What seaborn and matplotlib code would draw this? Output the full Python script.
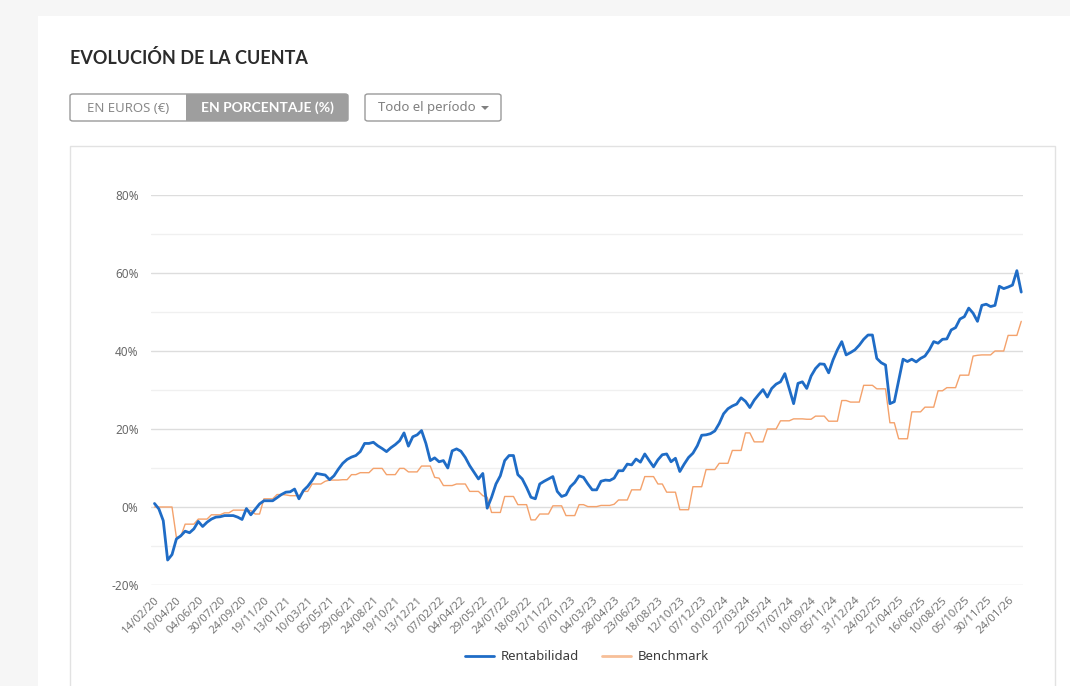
import matplotlib

matplotlib.use("Agg")
import matplotlib.pyplot as plt
import numpy as np
import pandas as pd
import seaborn as sns
from matplotlib.lines import Line2D
from matplotlib.patches import FancyBboxPatch, Polygon, Rectangle
from matplotlib.ticker import FuncFormatter, MultipleLocator


W, H = 1070, 686

# tick labels, one every 5 points
date_labels = [
    "14/02/20", "10/04/20", "04/06/20", "30/07/20", "24/09/20", "19/11/20",
    "13/01/21", "10/03/21", "05/05/21", "29/06/21", "24/08/21", "19/10/21",
    "13/12/21", "07/02/22", "04/04/22", "29/05/22", "24/07/22", "18/09/22",
    "12/11/22", "07/01/23", "04/03/23", "28/04/23", "23/06/23", "18/08/23",
    "12/10/23", "07/12/23", "01/02/24", "27/03/24", "22/05/24", "17/07/24",
    "10/09/24", "05/11/24", "31/12/24", "24/02/25", "21/04/25", "16/06/25",
    "10/08/25", "05/10/25", "30/11/25", "24/01/26",
]

rentabilidad = [
    0.9, -0.5, -3.5, -13.6, -12.2, -8.2, -7.4, -6.2, -6.6, -5.6,
    -3.7, -5.0, -3.9, -3.1, -2.6, -2.5, -2.2, -2.2, -2.2, -2.6,
    -3.2, -0.4, -2.0, -0.6, 0.8, 1.6, 1.6, 1.6, 2.4, 3.2,
    3.8, 3.9, 4.6, 2.1, 4.2, 5.3, 6.8, 8.6, 8.4, 8.2,
    7.0, 8.0, 9.7, 11.2, 12.2, 12.8, 13.2, 14.2, 16.3, 16.3,
    16.6, 15.7, 15.0, 14.2, 15.2, 16.0, 17.0, 19.0, 15.6, 18.0,
    18.5, 19.6, 16.3, 11.9, 12.6, 11.6, 11.9, 10.0, 14.4, 14.9,
    14.3, 12.7, 10.6, 8.9, 7.2, 8.6, -0.3, 2.5, 5.9, 8.0,
    11.9, 13.2, 13.2, 8.3, 7.2, 5.0, 2.5, 2.1, 5.9, 6.6,
    7.2, 7.8, 4.0, 2.7, 3.1, 5.2, 6.3, 8.0, 7.6, 5.9,
    4.4, 4.4, 6.6, 6.9, 6.8, 7.4, 9.3, 9.3, 11.0, 10.8,
    12.3, 11.5, 13.6, 11.9, 10.3, 12.1, 13.4, 13.6, 11.6, 12.5,
    9.1, 11.0, 12.7, 13.8, 15.7, 18.4, 18.5, 18.8, 19.5, 21.4,
    23.9, 25.2, 25.9, 26.4, 28.0, 27.1, 25.5, 27.4, 28.8, 30.1,
    28.2, 30.4, 31.5, 32.1, 34.2, 30.4, 26.5, 31.7, 32.1, 30.4,
    33.6, 35.5, 36.7, 36.6, 34.4, 37.7, 40.3, 42.4, 39.0, 39.6,
    40.3, 41.5, 43.0, 44.1, 44.1, 38.1, 37.0, 36.4, 26.5, 27.0,
    32.5, 37.9, 37.3, 37.9, 37.2, 38.1, 38.7, 40.3, 42.4, 42.0,
    43.0, 43.1, 45.4, 46.0, 48.2, 48.8, 51.0, 49.7, 47.6, 51.7,
    52.0, 51.4, 51.7, 56.6, 56.0, 56.4, 56.9, 60.6, 55.1,
]

benchmark = [
    0, 0, 0, 0, 0, -7.8, -7.6, -4.4, -4.4, -4.4,
    -3.1, -3.1, -3.1, -2.0, -2.0, -2.0, -1.5, -1.5, -0.8, -0.8,
    -0.8, -0.8, -0.9, -1.8, -1.8, 2.1, 2.1, 2.1, 3.2, 3.2,
    3.1, 2.9, 2.9, 2.9, 4.0, 4.0, 5.9, 5.9, 5.9, 6.6,
    6.9, 6.9, 6.9, 7.0, 7.0, 8.3, 8.3, 8.8, 8.8, 8.8,
    9.9, 9.9, 9.9, 8.3, 8.3, 8.3, 9.9, 9.9, 9.0, 9.0,
    9.0, 10.5, 10.5, 10.5, 7.6, 7.4, 5.5, 5.5, 5.5, 5.9,
    5.9, 5.9, 4.0, 4.0, 4.0, 2.9, 2.5, -1.4, -1.4, -1.4,
    2.7, 2.7, 2.7, 0.6, 0.6, 0.6, -3.3, -3.3, -1.8, -1.8,
    -1.8, 0.3, 0.3, 0.3, -2.2, -2.2, -2.2, 0.6, 0.6, 0.1,
    0.1, 0.1, 0.4, 0.4, 0.4, 0.7, 1.8, 1.8, 1.8, 4.4,
    4.4, 4.4, 7.8, 7.8, 7.8, 5.9, 5.9, 3.8, 3.8, 3.8,
    -0.7, -0.7, -0.7, 5.2, 5.2, 5.2, 9.6, 9.6, 9.6, 11.2,
    11.2, 11.2, 14.5, 14.5, 14.5, 19.0, 19.0, 16.7, 16.7, 16.7,
    20.0, 20.0, 20.0, 22.1, 22.1, 22.1, 22.6, 22.6, 22.6, 22.5,
    22.5, 23.3, 23.3, 23.3, 22.0, 22.0, 22.0, 27.3, 27.3, 26.9,
    26.9, 26.9, 31.2, 31.2, 31.2, 30.3, 30.3, 30.3, 21.6, 21.6,
    17.5, 17.5, 17.5, 24.4, 24.4, 24.4, 25.6, 25.6, 25.6, 29.8,
    29.8, 30.6, 30.6, 30.6, 33.8, 33.8, 33.8, 38.7, 38.9, 39.0,
    39.0, 39.0, 40.0, 40.0, 40.0, 44.0, 44.0, 44.0, 47.6,
]

BLUE = "#1f6cc6"
ORANGE = "#f4a26c"
LABEL_STEP = 5
BOLD_FONT = ["Lato", "DejaVu Sans"]


def fx(x):
    return x / W


def fy(y):
    return 1 - y / H


def box(fig, x0, y0, x1, y1, face, edge=None, rounded=0, z=-5):
    if rounded:
        patch = FancyBboxPatch(
            (fx(x0), fy(y1)), fx(x1 - x0), (y1 - y0) / H,
            boxstyle=f"round,pad=0,rounding_size={rounded / W}",
            transform=fig.transFigure, facecolor=face,
            edgecolor=edge or "none", linewidth=1, zorder=z,
        )
    else:
        patch = Rectangle(
            (fx(x0), fy(y1)), fx(x1 - x0), (y1 - y0) / H,
            transform=fig.transFigure, facecolor=face,
            edgecolor=edge or "none", linewidth=1, zorder=z,
        )
    fig.add_artist(patch)


sns.set_theme(style="white")
plt.rcParams["font.family"] = ["Noto Sans", "DejaVu Sans"]

fig = plt.figure(figsize=(W / 100, H / 100), dpi=100)
fig.patch.set_facecolor("#f6f6f6")

# page card and chart frame
box(fig, 38, 16, 1075, 690, "white", z=-10)
box(fig, 70, 146, 1055, 700, "white", edge="#e2e2e2", z=-9)

fig.text(fx(70), fy(58), "EVOLUCIÓN DE LA CUENTA", fontsize=13,
         fontweight="bold", family=BOLD_FONT, color="#2b2b2b",
         va="center", ha="left")

# button group
box(fig, 70, 94, 348, 121, "white", edge="#9a9a9a", rounded=3, z=-4)
box(fig, 186, 94, 348, 121, "#9e9e9e", rounded=3, z=-3)
box(fig, 186, 94, 200, 121, "#9e9e9e", z=-3)
fig.text(fx(128), fy(108), "EN EUROS (€)", fontsize=9.5, color="#8a8a8a",
         ha="center", va="center")
fig.text(fx(267), fy(108), "EN PORCENTAJE (%)", fontsize=10, color="white",
         fontweight="bold", family=BOLD_FONT, ha="center", va="center")

box(fig, 365, 94, 501, 121, "white", edge="#9a9a9a", rounded=3, z=-4)
fig.text(fx(378), fy(108), "Todo el período", fontsize=9.5, color="#808080",
         ha="left", va="center")
fig.add_artist(Polygon(
    [(fx(481), fy(106)), (fx(489), fy(106)), (fx(485), fy(110))],
    closed=True, transform=fig.transFigure, facecolor="#808080",
    edgecolor="none",
))

# chart
ax = fig.add_axes([fx(151), fy(585), fx(1023 - 151), 390 / H])
ax.set_facecolor("none")

df = pd.DataFrame({
    "idx": np.arange(len(rentabilidad)),
    "Rentabilidad": rentabilidad,
    "Benchmark": benchmark,
})

sns.lineplot(data=df, x="idx", y="Benchmark", color=ORANGE, linewidth=1.0,
             ax=ax, zorder=2)
sns.lineplot(data=df, x="idx", y="Rentabilidad", color=BLUE, linewidth=2.0,
             ax=ax, zorder=3)

ax.set_xlim(-0.8, 198.4)
ax.set_ylim(-20, 80)
ax.yaxis.set_major_locator(MultipleLocator(20))
ax.yaxis.set_minor_locator(MultipleLocator(10))
ax.yaxis.set_major_formatter(FuncFormatter(lambda v, _: f"{v:.0f}%"))
ax.grid(axis="y", which="major", color="#dddddd", linewidth=1)
ax.grid(axis="y", which="minor", color="#f0f0f0", linewidth=1)
ax.grid(axis="x", visible=False)
ax.set_axisbelow(True)

ticks = np.arange(0, len(date_labels) * LABEL_STEP, LABEL_STEP)
ax.set_xticks(ticks)
ax.set_xticklabels(date_labels, rotation=45, ha="right",
                   rotation_mode="anchor", fontsize=8.2, color="#777777")
ax.tick_params(axis="x", length=0, pad=7)
ax.tick_params(axis="y", which="both", length=0, pad=9, labelsize=8.5,
               labelcolor="#6a6a6a")

for side in ["top", "right", "bottom", "left"]:
    ax.spines[side].set_visible(False)
ax.set_xlabel("")
ax.set_ylabel("")

handles = [
    Line2D([], [], color=BLUE, linewidth=2.0),
    Line2D([], [], color="#f7bf98", linewidth=2.0),
]
fig.legend(handles, ["Rentabilidad", "Benchmark"], loc="center",
           bbox_to_anchor=(fx(587), fy(657)), ncol=2, frameon=False,
           fontsize=9.5, handlelength=2.2, columnspacing=1.8,
           handletextpad=0.5, labelcolor="#3c3c3c")

fig.savefig("out.png", dpi=100, facecolor=fig.get_facecolor())
